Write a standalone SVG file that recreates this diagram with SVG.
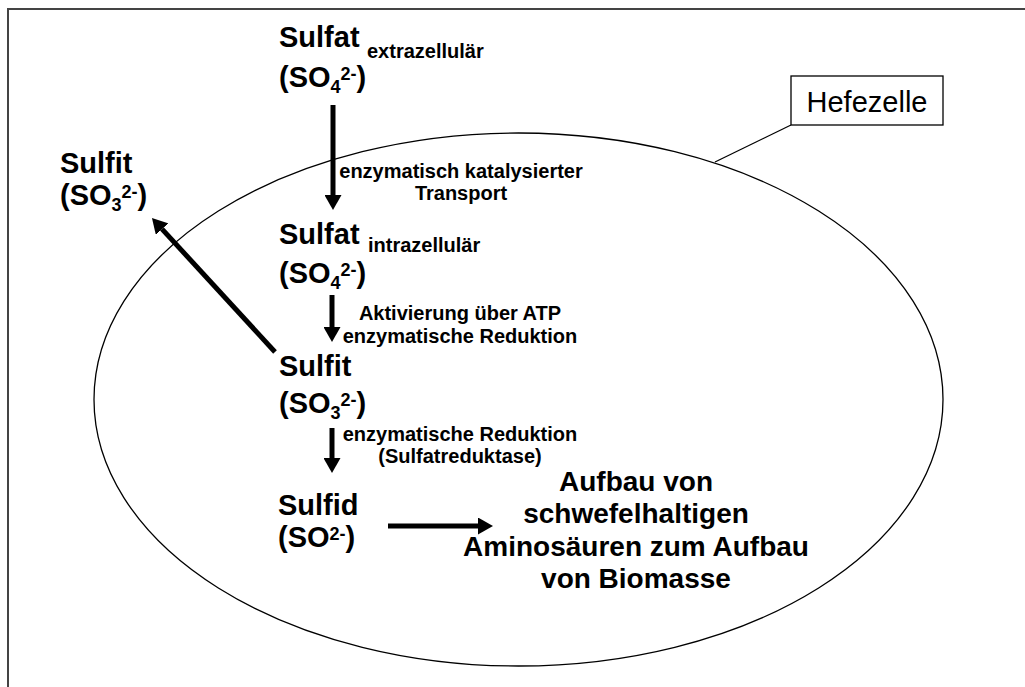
<svg xmlns="http://www.w3.org/2000/svg" width="1025" height="687" viewBox="0 0 1025 687">
<defs>
<style>
text{font-family:"Liberation Sans",Arial,sans-serif;fill:#000}
.big{font-size:29px;font-weight:bold}
.sm{font-size:20px;font-weight:bold}
.lbl{font-size:20px;font-weight:bold;text-anchor:middle}
.idx{font-size:18px}
.res{font-size:28px;font-weight:bold;text-anchor:middle}
.arr{stroke:#000;stroke-width:5;fill:none}
</style>
<marker id="ah" viewBox="0 0 15 17" markerUnits="userSpaceOnUse" markerWidth="15" markerHeight="17" refX="0" refY="8.5" orient="auto">
<path d="M0,0 L15,8.5 L0,17 z" fill="#000"/>
</marker>
</defs>
<rect width="1025" height="687" fill="#fff"/>
<path d="M8,687 V9 H1025" fill="none" stroke="#444" stroke-width="2"/>
<g id="zelle">
<ellipse cx="518.5" cy="399.5" rx="424.5" ry="266.5" fill="none" stroke="#000" stroke-width="1.3"/>
<line x1="791" y1="125" x2="715" y2="162" stroke="#000" stroke-width="1.3"/>
</g>
<g id="hefezelle">
<rect x="791" y="76" width="152" height="49" fill="#fff" stroke="#000" stroke-width="1.3"/>
<text x="867" y="112" font-size="29" text-anchor="middle">Hefezelle</text>
</g>
<g id="sulfat-extra">
<text class="big" x="279" y="47">Sulfat</text>
<text class="sm" x="367" y="58">extrazellulär</text>
<text class="big" x="279" y="87">(SO<tspan class="idx" dy="6">4</tspan><tspan class="idx" dy="-13">2-</tspan><tspan dy="7">)</tspan></text>
</g>
<g id="sulfat-intra">
<text class="big" x="279" y="244">Sulfat</text>
<text class="sm" x="368" y="252">intrazellulär</text>
<text class="big" x="279" y="283">(SO<tspan class="idx" dy="6">4</tspan><tspan class="idx" dy="-13">2-</tspan><tspan dy="7">)</tspan></text>
</g>
<g id="sulfit">
<text class="big" x="279" y="376">Sulfit</text>
<text class="big" x="279" y="413">(SO<tspan class="idx" dy="6">3</tspan><tspan class="idx" dy="-13">2-</tspan><tspan dy="7">)</tspan></text>
</g>
<g id="sulfit-aussen">
<text class="big" x="60" y="173">Sulfit</text>
<text class="big" x="60" y="205">(SO<tspan class="idx" dy="6">3</tspan><tspan class="idx" dy="-13">2-</tspan><tspan dy="7">)</tspan></text>
</g>
<g id="sulfid">
<text class="big" x="278" y="515">Sulfid</text>
<text class="big" x="278" y="547">(SO<tspan class="idx" dy="-7">2-</tspan><tspan dy="7">)</tspan></text>
</g>
<g id="aufbau">
<text class="res" x="636" y="491">Aufbau von</text>
<text class="res" x="636" y="523">schwefelhaltigen</text>
<text class="res" x="636" y="556">Aminosäuren zum Aufbau</text>
<text class="res" x="636" y="588">von Biomasse</text>
</g>
<g id="connectors">
<line class="arr" x1="333" y1="105" x2="333" y2="195" marker-end="url(#ah)"/>
<line class="arr" x1="332" y1="295" x2="332" y2="327" marker-end="url(#ah)"/>
<line class="arr" x1="332" y1="428" x2="332" y2="458" marker-end="url(#ah)"/>
<line class="arr" x1="388" y1="526" x2="478" y2="526" marker-end="url(#ah)"/>
<line class="arr" x1="275" y1="352" x2="162.1" y2="229.1" marker-end="url(#ah)"/>
<text class="lbl" x="461" y="178">enzymatisch katalysierter</text>
<text class="lbl" x="461" y="200">Transport</text>
<text class="lbl" x="460" y="320">Aktivierung über ATP</text>
<text class="lbl" x="460" y="343">enzymatische Reduktion</text>
<text class="lbl" x="460" y="441">enzymatische Reduktion</text>
<text class="lbl" x="460" y="463">(Sulfatreduktase)</text>
</g>
</svg>
